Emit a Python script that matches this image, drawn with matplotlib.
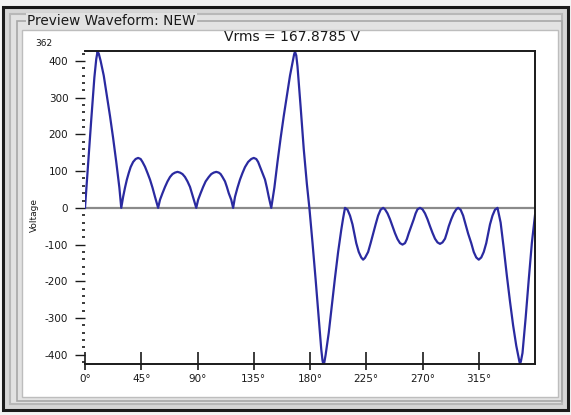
import matplotlib
matplotlib.use("Agg")
import matplotlib.pyplot as plt
from matplotlib.patches import Rectangle
from matplotlib.ticker import MultipleLocator, FixedLocator

# ---- data (angle in degrees, voltage) ----
angle_deg = [
    0, 2.5, 5, 7.5, 9, 10, 11, 12.5, 15, 17.5, 20, 22.5, 25, 27.5, 29,
    30.5, 32, 33.5, 35, 36.5, 38.5, 40.5, 42.5, 44.5, 46, 48, 50, 52, 54, 56, 58.5,
    60, 62, 64, 66, 68, 70, 72, 74, 76, 78, 80, 82, 84, 85.5, 87, 89,
    90.5, 92.5, 94.5, 96.5, 99, 101, 103, 105, 107, 108.5, 110, 112, 113.5, 115, 117, 118.5,
    120, 122, 124, 126, 128, 130.5, 133, 135, 137, 138.5, 140, 142, 144, 145.5, 147, 149,
    151.5, 154, 156.5, 159, 161.5, 164, 166.5, 167.3, 168, 169, 170, 172.5, 175, 177.5, 179.5,
    182, 184.5, 187, 189, 190, 190.6, 191.5, 192.5, 195, 197.5, 200, 202.5, 205, 206.5, 208,
    210, 212, 214, 215.5, 217, 219, 221, 222.5, 224, 226.5, 228.5, 230.5, 232.5, 234.5, 236.5, 238.5,
    240, 242, 244, 246, 248, 250, 252, 254, 256, 257.5, 259, 261, 263, 264.5, 266, 268,
    270, 272, 274, 276, 278, 280, 282, 284, 286, 288, 289.5, 291, 293, 295, 297, 298.5,
    300.5, 302.5, 304.5, 306.5, 309, 311, 313, 315, 317, 319, 321, 322.5, 324, 326, 328, 330,
    332.5, 335, 337.5, 340, 342.5, 345, 347, 347.5, 348, 348.7, 350, 352.5, 355, 357.5, 360,
]
voltage = [
    0, 120, 240, 355, 405, 425, 420, 400, 360, 305, 250, 190, 125, 55, 0,
    30, 55, 77, 95, 111, 125, 133, 136, 133, 125, 112, 95, 77, 55, 30, 0,
    22, 40, 57, 72, 84, 92, 96, 98, 96, 92, 84, 72, 57, 40, 22, 0,
    22, 40, 57, 72, 84, 92, 96, 98, 96, 92, 84, 72, 57, 40, 22, 0,
    30, 55, 77, 95, 111, 125, 133, 136, 133, 125, 112, 95, 77, 55, 30, 0,
    55, 125, 190, 250, 305, 360, 405, 418, 425, 415, 385, 275, 160, 65, 0,
    -95, -195, -300, -385, -415, -425, -420, -400, -340, -265, -190, -120, -60, -28, 0,
    -5, -21, -45, -70, -96, -120, -135, -141, -136, -120, -96, -70, -45, -21, -5, 0,
    -4, -15, -31, -50, -69, -85, -96, -100, -96, -85, -69, -50, -31, -15, -4, 0,
    -4, -15, -31, -50, -68, -84, -94, -98, -94, -84, -68, -50, -31, -15, -4, 0,
    -5, -21, -45, -70, -96, -120, -135, -141, -135, -120, -96, -70, -45, -21, -5, 0,
    -40, -110, -185, -255, -320, -375, -410, -418, -425, -418, -395, -300, -195, -95, -20,
]
x_ticks = [0, 45, 90, 135, 180, 225, 270, 315]
x_tick_labels = ["0°", "45°", "90°", "135°", "180°", "225°", "270°", "315°"]
y_ticks = [-400, -300, -200, -100, 0, 100, 200, 300, 400]
title_text = "Preview Waveform: NEW"
vrms_text = "Vrms = 167.8785 V"
corner_text = "362"
y_label = "Voltage"

W, H = 571, 415
plt.rcParams['font.family'] = ['DejaVu Sans']
fig = plt.figure(figsize=(W / 100, H / 100), dpi=100)
fig.patch.set_facecolor('#d0d0d0')

# ---- window chrome drawn in pixel coordinates ----
bg = fig.add_axes([0, 0, 1, 1], zorder=0)
bg.set_xlim(0, W)
bg.set_ylim(H, 0)
bg.axis('off')
bg.add_patch(Rectangle((0, 0), W, H, facecolor='#f4f4f4', edgecolor='none'))
bg.add_patch(Rectangle((3, 7), 565, 403, facecolor='#d6d6d6', edgecolor='#1a1a1a', lw=2.2))
bg.add_patch(Rectangle((10, 14), 552, 390, facecolor='#e2e2e2', edgecolor='#b8b8b8', lw=1.5))
bg.add_patch(Rectangle((17, 21), 545, 380, facecolor='none', edgecolor='#a8a8a8', lw=1.2))
bg.add_patch(Rectangle((22, 30), 536, 367, facecolor='white', edgecolor='#bdbdbd', lw=1.0))
bg.text(27, 21, title_text, fontsize=9.8, color='#1a1a1a', va='center', ha='left',
        bbox=dict(facecolor='#e2e2e2', edgecolor='none', pad=1.0))
bg.text(291.5, 37, vrms_text, fontsize=10, color='#1a1a1a', va='center', ha='center')
bg.text(35, 43, corner_text, fontsize=6.5, color='#1a1a1a', va='center', ha='left')
bg.text(34, 215, y_label, fontsize=6.5, color='#1a1a1a', va='center', ha='center', rotation=90)

# ---- the chart ----
ax = fig.add_axes([85 / W, 1 - 364 / H, (535 - 85) / W, (364 - 51) / H], zorder=1)
ax.set_facecolor('white')
ax.axhline(0, color='#8a8a8a', lw=1.6, zorder=1)
ax.plot(angle_deg, voltage, color='#2a2aa0', lw=1.6, zorder=2)

ax.set_xlim(0, 360)
ax.set_ylim(-425, 427)

ax.set_xticks(x_ticks)
ax.set_xticklabels(x_tick_labels, fontsize=7.5, color='#1a1a1a')
ax.xaxis.remove_overlapping_locs = False
ax.xaxis.set_minor_locator(FixedLocator(x_ticks))
ax.set_yticks(y_ticks)
ax.set_yticklabels([str(v) for v in y_ticks], fontsize=7.5, color='#1a1a1a')
ax.yaxis.set_minor_locator(MultipleLocator(20))

ax.tick_params(axis='x', which='major', direction='in', length=9, width=1.2, pad=7, colors='#1a1a1a')
ax.tick_params(axis='x', which='minor', direction='out', length=4, width=1.2, colors='#1a1a1a')
ax.tick_params(axis='y', which='major', direction='out', length=7, width=1.0, pad=5, colors='#1a1a1a')
ax.tick_params(axis='y', which='minor', direction='out', length=2, width=1.2, colors='#1a1a1a')

ax.spines['left'].set_visible(False)
for s in ['top', 'right', 'bottom']:
    ax.spines[s].set_color('#1a1a1a')
    ax.spines[s].set_linewidth(1.4)

fig.savefig('out.png', dpi=100)
